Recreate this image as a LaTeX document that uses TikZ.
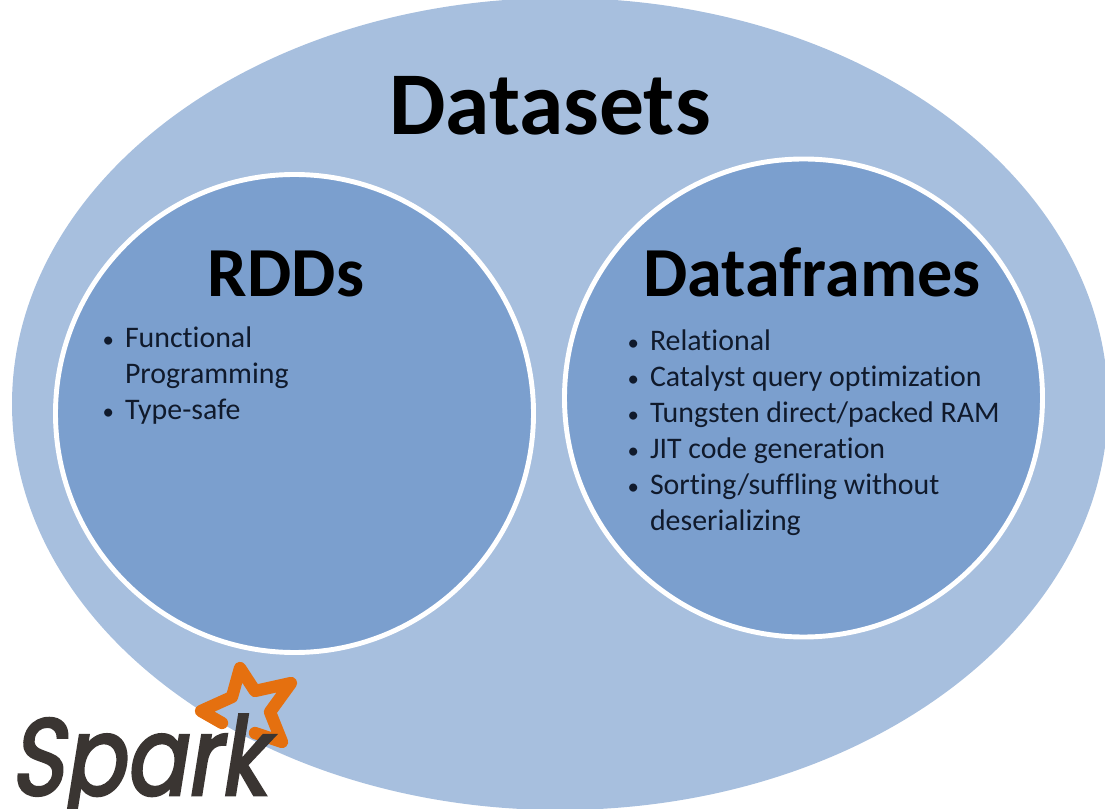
\documentclass[tikz,border=0pt]{standalone}
\usepackage{fontspec}
\setmainfont{Carlito}[Ligatures=NoCommon]
\newfontfamily\logofont[FakeSlant=0.16,FakeStretch=0.83,FakeBold=2.5]{Poppins}
\usetikzlibrary{shapes.geometric,positioning}

\definecolor{outerblue}{HTML}{A7BFDE}
\definecolor{innerblue}{HTML}{7B9FCE}
\definecolor{listtext}{HTML}{101A2C}
\definecolor{sparkorange}{HTML}{E5700F}
\definecolor{sparkgrey}{HTML}{3A3532}

\newcommand{\bulletitem}[1]{\makebox[12.8pt][l]{\fontsize{13}{13}\selectfont\textbullet}#1}
\newcommand{\hangitem}[1]{\hspace*{12.8pt}#1}

\begin{document}
\begin{tikzpicture}[x=0.02cm, y=0.02cm, semithick]
        \tikzstyle{outer}=[ellipse,fill=outerblue,minimum width=1096*0.02cm,minimum height=812*0.02cm,inner sep=0pt]
        \tikzstyle{inner}=[circle,fill=innerblue,draw=white,line width=2.8pt,minimum size=478*0.02cm,inner sep=0pt]
        \tikzstyle{heading}=[font=\bfseries\fontsize{51}{54}\selectfont,text=black,inner sep=0pt]
        \tikzstyle{subheading}=[font=\bfseries\fontsize{40}{44}\selectfont,text=black,inner sep=0pt]
        \tikzstyle{bullets}=[font=\fontsize{17}{20.5}\selectfont,text=listtext,align=left,anchor=north west,inner sep=0pt]

        \useasboundingbox (0,0) rectangle (1105,808);
        \clip (0,0) rectangle (1105,808);

        \node[outer] (datasets) at (560,404) {};
        \node[inner] (rdds) at (294.5,394.5) {};
        \node[inner] (frames) at (803.5,410) {};

        \node[heading] (datasetsT) at (550,702) {Datasets};
        \node[subheading] (rddsT) at (286,534) {RDDs};
        \node[subheading] (framesT) at (812,536) {Dataframes};

        \node[bullets] (rddsL) at (102,482) {%
            \bulletitem{Functional}\\
            \hangitem{Programming}\\
            \bulletitem{Type-safe}};
        \node[bullets] (framesL) at (627,478.5) {%
            \bulletitem{Relational}\\
            \bulletitem{Catalyst query optimization}\\
            \bulletitem{Tungsten direct/packed RAM}\\
            \bulletitem{JIT code generation}\\
            \bulletitem{Sorting/suffling without}\\
            \hangitem{deserializing}};

        % spark logo, star first so the k lies over it
        \coordinate (s0) at (255,75);
        \coordinate (s1) at (282,66);
        \coordinate (s2) at (270,96);
        \coordinate (s3) at (291,125);
        \coordinate (s4) at (255,117);
        \coordinate (s5) at (240,140);
        \coordinate (s6) at (232,111);
        \coordinate (s7) at (201,97);
        \coordinate (s8) at (222,85);
        \draw[sparkorange, line width=7pt, line join=round, line cap=round]
            (s0) -- (s1) -- (s2) -- (s3) -- (s4) -- (s5) -- (s6) -- (s7) -- (s8);
        \node[font=\logofont\fontsize{62}{62}\selectfont, text=sparkgrey, inner sep=0pt, anchor=base west] (spark) at (10,13) {Spark};
\end{tikzpicture}
\end{document}
